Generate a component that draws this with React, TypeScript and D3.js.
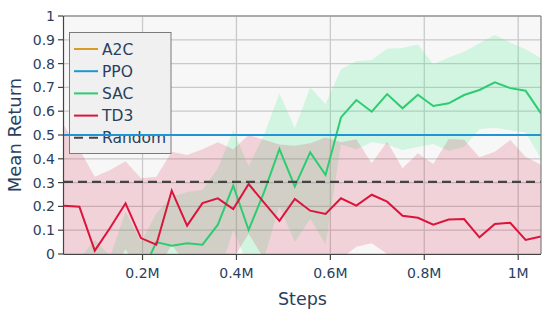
import React from 'react';
import * as d3 from 'd3';

// evaluation steps (every 32768 env steps)
const steps = [
  32768, 65536, 98304, 131072, 163840, 196608, 229376, 262144,
  294912, 327680, 360448, 393216, 425984, 458752, 491520, 524288,
  557056, 589824, 622592, 655360, 688128, 720896, 753664, 786432,
  819200, 851968, 884736, 917504, 950272, 983040, 1015808, 1048576,
];

const a2cMean = [
  0.5, 0.5, 0.5, 0.5, 0.5, 0.5, 0.5, 0.5, 0.5, 0.5, 0.5, 0.5, 0.5, 0.5, 0.5, 0.5,
  0.5, 0.5, 0.5, 0.5, 0.5, 0.5, 0.5, 0.5, 0.5, 0.5, 0.5, 0.5, 0.5, 0.5, 0.5, 0.5,
];
const ppoMean = [
  0.5, 0.5, 0.5, 0.5, 0.5, 0.5, 0.5, 0.5, 0.5, 0.5, 0.5, 0.5, 0.5, 0.5, 0.5, 0.5,
  0.5, 0.5, 0.5, 0.5, 0.5, 0.5, 0.5, 0.5, 0.5, 0.5, 0.5, 0.5, 0.5, 0.5, 0.5, 0.5,
];

const sacMean = [
  -0.25, -0.3, -0.2, -0.18, -0.12, -0.09, 0.05, 0.035, 0.045, 0.039, 0.123, 0.287,
  0.101, 0.26, 0.441, 0.284, 0.427, 0.332, 0.574, 0.647, 0.598, 0.672, 0.612, 0.669,
  0.622, 0.633, 0.668, 0.689, 0.721, 0.697, 0.686, 0.591,
];
const sacUpper = [
  -0.1, -0.02, 0.06, -0.01, 0.18, 0.05, 0.17, 0.24, 0.26, 0.27, 0.36, 0.52,
  0.37, 0.5, 0.675, 0.528, 0.7, 0.63, 0.776, 0.81, 0.815, 0.862, 0.866, 0.88,
  0.797, 0.826, 0.85, 0.885, 0.92, 0.889, 0.86, 0.822,
];
const sacLower = [
  -0.5, -0.55, -0.45, -0.4, -0.35, -0.3, -0.2, -0.18, -0.15, -0.16, -0.1, 0.1,
  -0.05, -0.02, 0.2, 0.05, 0.147, 0.04, 0.46, 0.44, 0.47, 0.46, 0.437, 0.45,
  0.462, 0.434, 0.45, 0.525, 0.53, 0.52, 0.51, 0.4,
];

const td3Mean = [
  0.203, 0.199, 0.014, 0.11, 0.213, 0.067, 0.039, 0.266, 0.119, 0.214, 0.234, 0.189,
  0.294, 0.216, 0.139, 0.231, 0.182, 0.168, 0.234, 0.203, 0.249, 0.22, 0.161, 0.152,
  0.123, 0.145, 0.147, 0.07, 0.126, 0.131, 0.059, 0.074,
];
const td3Upper = [
  0.54, 0.44, 0.325, 0.353, 0.39, 0.318, 0.325, 0.43, 0.416, 0.44, 0.47, 0.44,
  0.5, 0.48, 0.46, 0.455, 0.465, 0.49, 0.47, 0.482, 0.381, 0.472, 0.36, 0.423,
  0.378, 0.483, 0.48, 0.406, 0.43, 0.479, 0.409, 0.375,
];
const td3Lower = [
  -0.1, -0.15, -0.2, -0.1, 0.02, -0.1, -0.08, 0.04, -0.05, -0.05, -0.03, -0.02,
  0.085, -0.02, -0.05, -0.03, -0.05, -0.06, -0.02, 0.03, 0.045, 0.0, -0.05, -0.1,
  -0.1, -0.1, -0.12, -0.15, -0.1, -0.1, -0.15, -0.1,
];

const randomReturn = 0.303;

const xTicks = [200000, 400000, 600000, 800000, 1000000];
const legendNames = ['A2C', 'PPO', 'SAC', 'TD3', 'Random'];
const legendColors = ['#d99a27', '#1f96d3', '#2ecc71', '#dc143c', '#444444'];

const font = '"DejaVu Sans", Verdana, sans-serif';
const textColor = '#2a3f5f';

export default function App() {
  const left = 64, right = 541, top = 16, bottom = 254;
  const x = d3.scaleLinear().domain([steps[0], steps[steps.length - 1]]).range([left, right]);
  const y = d3.scaleLinear().domain([0, 1]).range([bottom, top]);
  const yTicks = y.ticks(10);

  const line = (vals: number[]) =>
    d3.line<number>().x((_, i) => x(steps[i])).y(d => y(d))(vals) || '';
  const band = (lo: number[], hi: number[]) =>
    d3.area<number>().x((_, i) => x(steps[i])).y0((_, i) => y(lo[i])).y1(d => y(d))(hi) || '';

  const legendY = (i: number) => 49 + i * 22.2;

  return (
    <svg width={548} height={313} style={{ position: 'absolute', left: 0, top: 0 }}
      fontFamily={font}>
      <defs>
        <clipPath id="plot">
          <rect x={left} y={top} width={right - left} height={bottom - top} />
        </clipPath>
      </defs>
      <rect x={0} y={0} width={548} height={313} fill="#fff" />
      <rect x={left} y={top} width={right - left} height={bottom - top} fill="#f7f7f7" />

      {/* grid */}
      {yTicks.map(t => (
        <line key={'gy' + t} x1={left} x2={right} y1={y(t)} y2={y(t)} stroke="#cacaca" strokeWidth={1.3} />
      ))}
      {xTicks.map(t => (
        <line key={'gx' + t} x1={x(t)} x2={x(t)} y1={top} y2={bottom} stroke="#cacaca" strokeWidth={1.3} />
      ))}

      <g clipPath="url(#plot)">
        <path d={band(sacLower, sacUpper)} fill="rgba(60,240,140,0.2)" />
        <path d={band(td3Lower, td3Upper)} fill="rgba(220,20,60,0.16)" />
        <path d={line(sacMean)} fill="none" stroke={legendColors[2]} strokeWidth={2} />
        <path d={line(td3Mean)} fill="none" stroke={legendColors[3]} strokeWidth={2} />
        <line x1={x(steps[0])} x2={x(steps[steps.length - 1])} y1={y(randomReturn)} y2={y(randomReturn)}
          stroke="#444" strokeWidth={2.2} strokeDasharray="9,5" />
      </g>

      {/* legend */}
      <rect x={69.5} y={32.5} width={101.5} height={121} fill="#f0f0f0" stroke="#7a7a7a" strokeWidth={1} />
      {legendNames.map((n, i) => (
        <g key={n}>
          <line x1={74} x2={98} y1={legendY(i)} y2={legendY(i)} stroke={legendColors[i]}
            strokeWidth={2} strokeDasharray={n === 'Random' ? '9,6' : undefined} />
          <text x={102} y={legendY(i) + 5.5} fontSize={15.5} fill={textColor}>{n}</text>
        </g>
      ))}

      <g clipPath="url(#plot)">
        <path d={line(a2cMean)} fill="none" stroke={legendColors[0]} strokeWidth={2} />
        <path d={line(ppoMean)} fill="none" stroke={legendColors[1]} strokeWidth={2} />
      </g>

      {/* frame */}
      <line x1={left} x2={right} y1={top} y2={top} stroke="#808080" strokeWidth={1.2} />
      <line x1={right} x2={right} y1={top} y2={bottom} stroke="#808080" strokeWidth={1.2} />
      <line x1={left - 0.5} x2={left - 0.5} y1={top} y2={bottom + 0.5} stroke="#444" strokeWidth={1.2} />
      <line x1={left - 0.5} x2={right} y1={bottom + 0.5} y2={bottom + 0.5} stroke="#444" strokeWidth={1.2} />

      {/* y axis */}
      {yTicks.map(t => (
        <g key={'ty' + t}>
          <line x1={left - 6} x2={left - 0.5} y1={y(t)} y2={y(t)} stroke="#444" strokeWidth={1.2} />
          <text x={left - 9} y={y(t) + 5} fontSize={14} textAnchor="end" fill={textColor}>
            {d3.format('~g')(t)}
          </text>
        </g>
      ))}
      {/* x axis */}
      {xTicks.map(t => (
        <g key={'tx' + t}>
          <line x1={x(t)} x2={x(t)} y1={bottom + 0.5} y2={bottom + 6} stroke="#444" strokeWidth={1.2} />
          <text x={x(t)} y={bottom + 24} fontSize={14} textAnchor="middle" fill={textColor}>
            {d3.format('~g')(t / 1e6) + 'M'}
          </text>
        </g>
      ))}

      <text x={(left + right) / 2} y={305} fontSize={17.5} textAnchor="middle" fill={textColor}>Steps</text>
      <text transform={`translate(21,${(top + bottom) / 2}) rotate(-90)`} fontSize={18}
        textAnchor="middle" fill={textColor}>Mean Return</text>
    </svg>
  );
}
